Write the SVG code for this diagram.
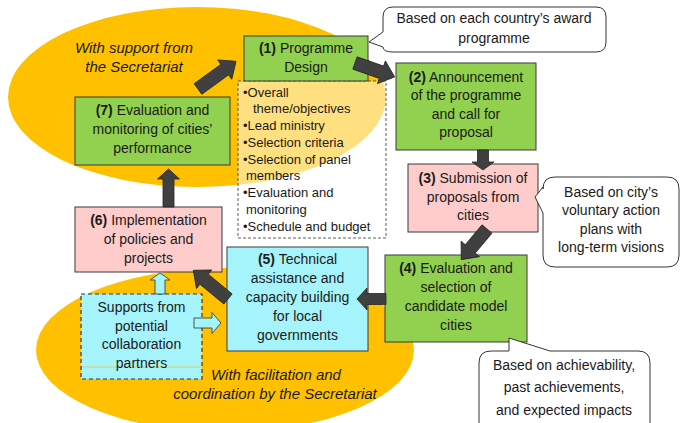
<svg xmlns="http://www.w3.org/2000/svg" width="690" height="423" viewBox="0 0 690 423">
<style>
text{font-family:"Liberation Sans",Arial,sans-serif;font-size:14px;fill:#1a1a1a;text-anchor:middle}
.it{font-style:italic;font-size:15px}
.li{font-size:13px;text-anchor:start}
.node{stroke:#3a3a3a;stroke-width:1}
.g{fill:#92d050}
.p{fill:#ffcccc}
.c{fill:#a6f4fb}
.call{fill:#fff;stroke:#333;stroke-width:1}
.arr{fill:#404040;stroke:#262626;stroke-width:0.8}
.carr{fill:#a6f4fb;stroke:#333;stroke-width:0.8}
</style>
<rect width="690" height="423" fill="#fff"/>
<g id="backgrounds">
<ellipse cx="197" cy="97" rx="189" ry="90" fill="#ffc000"/>
<ellipse cx="225" cy="350" rx="189" ry="82" fill="#ffc000"/>
<text class="it" x="134" y="53">With support from</text>
<text class="it" x="134" y="72">the Secretariat</text>
<text class="it" x="276" y="380">With facilitation and</text>
<text class="it" x="275" y="399">coordination by the Secretariat</text>
</g>
<g id="design-details">
<rect x="238" y="81" width="148" height="157" fill="#fff" fill-opacity="0.5" stroke="#333" stroke-width="0.8" stroke-dasharray="3,2"/>
<text class="li" x="243" y="97">•Overall</text>
<text class="li" x="253" y="113">theme/objectives</text>
<text class="li" x="243" y="130">•Lead ministry</text>
<text class="li" x="243" y="147">•Selection criteria</text>
<text class="li" x="243" y="164">•Selection of panel</text>
<text class="li" x="246" y="180">members</text>
<text class="li" x="243" y="197">•Evaluation and</text>
<text class="li" x="246" y="214">monitoring</text>
<text class="li" x="243" y="231">•Schedule and budget</text>
</g>
<g id="n1">
<rect class="node g" x="244" y="36" width="124" height="45"/>
<text x="306" y="53"><tspan font-weight="bold">(1)</tspan> Programme</text>
<text x="306" y="72">Design</text>
</g>
<g id="n2">
<rect class="node g" x="396" y="63" width="140" height="87"/>
<text x="466" y="82"><tspan font-weight="bold">(2)</tspan> Announcement</text>
<text x="466" y="100">of the programme</text>
<text x="466" y="119">and call for</text>
<text x="466" y="137">proposal</text>
</g>
<g id="n3">
<rect class="node p" x="408" y="164" width="130" height="68"/>
<text x="473" y="183"><tspan font-weight="bold">(3)</tspan> Submission of</text>
<text x="473" y="202">proposals from</text>
<text x="473" y="220">cities</text>
</g>
<g id="n4">
<rect class="node g" x="385" y="255" width="142" height="87"/>
<text x="456" y="273"><tspan font-weight="bold">(4)</tspan> Evaluation and</text>
<text x="456" y="292">selection of</text>
<text x="456" y="311">candidate model</text>
<text x="456" y="330">cities</text>
</g>
<g id="n5">
<rect class="node c" x="227" y="247" width="141" height="104"/>
<text x="297.5" y="264"><tspan font-weight="bold">(5)</tspan> Technical</text>
<text x="297.5" y="283">assistance and</text>
<text x="297.5" y="302">capacity building</text>
<text x="297.5" y="321">for local</text>
<text x="297.5" y="340">governments</text>
</g>
<g id="n6">
<rect class="node p" x="75" y="207" width="147" height="65"/>
<text x="148.5" y="225"><tspan font-weight="bold">(6)</tspan> Implementation</text>
<text x="148.5" y="244">of policies and</text>
<text x="148.5" y="263">projects</text>
</g>
<g id="n7">
<rect class="node g" x="75" y="97" width="155" height="68"/>
<text x="152.5" y="115"><tspan font-weight="bold">(7)</tspan> Evaluation and</text>
<text x="152.5" y="134">monitoring of cities’</text>
<text x="152.5" y="153">performance</text>
</g>
<g id="supports">
<rect x="81" y="294" width="121" height="85" fill="#a6f4fb" stroke="#333" stroke-width="1.2" stroke-dasharray="4,3"/>
<line x1="82" y1="367" x2="201" y2="367" stroke="#f0c040" stroke-width="0.8"/>
<text x="141.5" y="312">Supports from</text>
<text x="141.5" y="331">potential</text>
<text x="141.5" y="349">collaboration</text>
<text x="141.5" y="368">partners</text>
</g>
<g id="connectors">
<path class="arr" transform="translate(198,89) rotate(-36)" d="M0,-6.5 L33,-6.5 L33,-12 L47,0 L33,12 L33,6.5 L0,6.5 Z"/>
<path class="arr" transform="translate(355,63) rotate(19.3)" d="M0,-6.5 L28,-6.5 L28,-12 L42,0 L28,12 L28,6.5 L0,6.5 Z"/>
<path class="arr" transform="translate(483,150) rotate(90)" d="M0,-5.5 L12,-5.5 L12,-11 L20,0 L12,11 L12,5.5 L0,5.5 Z"/>
<path class="arr" transform="translate(487,229) rotate(130)" d="M0,-6.5 L26,-6.5 L26,-12 L40,0 L26,12 L26,6.5 L0,6.5 Z"/>
<path class="arr" transform="translate(386,299) rotate(180)" d="M0,-5.5 L19,-5.5 L19,-11 L29,0 L19,11 L19,5.5 L0,5.5 Z"/>
<path class="arr" transform="translate(228,299) rotate(-140.4)" d="M0,-6.5 L31,-6.5 L31,-12 L45,0 L31,12 L31,6.5 L0,6.5 Z"/>
<path class="arr" transform="translate(168.5,207) rotate(-90)" d="M0,-5.5 L28,-5.5 L28,-11 L38,0 L28,11 L28,5.5 L0,5.5 Z"/>
<path class="carr" transform="translate(160,294) rotate(-90)" d="M0,-5 L14,-5 L14,-10 L21,0 L14,10 L14,5 L0,5 Z"/>
<path class="carr" transform="translate(194,323)" d="M0,-5 L18,-5 L18,-10.5 L27,0 L18,10.5 L18,5 L0,5 Z"/>
</g>
<g id="callout-award">
<path class="call" d="M393,7 H596 Q606,7 606,17 V42 Q606,52 596,52 H393 Q383,52 383,47 L369,42 L383,32 V17 Q383,7 393,7 Z"/>
<text x="494" y="23">Based on each country’s award</text>
<text x="494" y="43">programme</text>
</g>
<g id="callout-city">
<path class="call" d="M555,177 H667 Q679,177 679,189 V255 Q679,267 667,267 H555 Q543,267 543,255 V213 L535,197 L543,187 V189 Q543,177 555,177 Z"/>
<text x="611" y="197">Based on city’s</text>
<text x="611" y="215">voluntary action</text>
<text x="611" y="234">plans with</text>
<text x="611" y="252">long-term visions</text>
</g>
<g id="callout-criteria">
<path class="call" d="M491,351 H509 V338 L550,351 H638 Q650,351 650,363 V435 H479 V363 Q479,351 491,351 Z"/>
<text x="564" y="370">Based on achievability,</text>
<text x="564" y="392">past achievements,</text>
<text x="564" y="415">and expected impacts</text>
</g>
</svg>
